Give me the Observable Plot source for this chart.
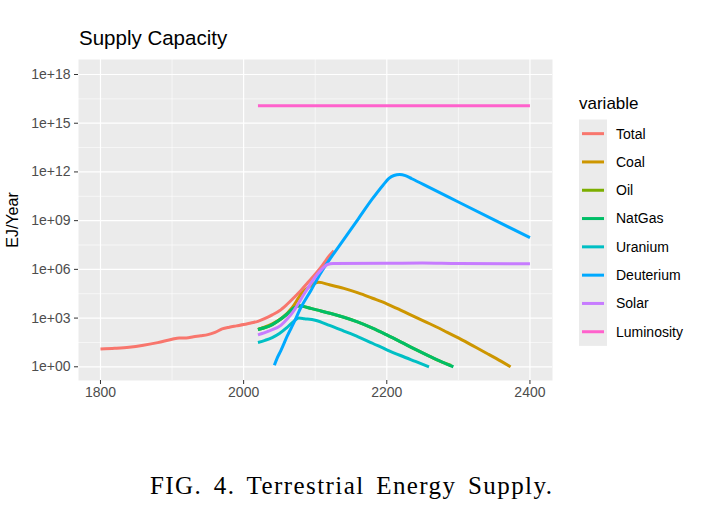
<!DOCTYPE html>
<html>
<head>
<meta charset="utf-8">
<script src="https://cdn.jsdelivr.net/npm/d3@7"></script>
<script src="https://cdn.jsdelivr.net/npm/@observablehq/plot@0.6"></script>
<style>
  body { margin: 0; background: #fff; }
  #wrap { position: relative; width: 710px; height: 514px; overflow: hidden; }
  #wrap > svg { position: absolute; left: 0; top: 0; }
</style>
</head>
<body>
<div id="wrap"></div>
<script>
// Series names in legend / drawing order
const variables = ["Total", "Coal", "Oil", "NatGas", "Uranium", "Deuterium", "Solar", "Luminosity"];
const palette = ["#F8766D", "#CD9600", "#7CAE00", "#00BE67", "#00BFC4", "#00A9FF", "#C77CFF", "#FF61CC"];

// Supply capacity, EJ/Year
const totalYears = [1800, 1820, 1840, 1860, 1880, 1900, 1910, 1920, 1930, 1940, 1950, 1960, 1970, 1980, 1990, 2000, 2010, 2020, 2030, 2040, 2050, 2060, 2070, 2080, 2090, 2100, 2110, 2120, 2126];
const totalValues = [12.3, 13.8, 16.2, 21.4, 30.9, 50.1, 60.3, 60.3, 70.8, 81.3, 95.5, 132, 214, 275, 331, 398, 501, 631, 955, 1585, 2818, 6607, 17783, 50119, 158489, 501187, 1.78e6, 7.08e6, 1.41e7];

const coalYears = [2020, 2040, 2055, 2068, 2080, 2092, 2105, 2120, 2140, 2160, 2180, 2200, 2220, 2240, 2260, 2280, 2300, 2320, 2340, 2360, 2373];
const coalValues = [200, 447, 1122, 4467, 28184, 89125, 158489, 112202, 67608, 35481, 16596, 7586, 3020, 1148, 447, 166, 60.3, 20.0, 6.61, 2.14, 1];

const oilYears = [2020, 2030, 2040, 2050, 2060, 2070, 2078, 2083, 2095, 2108, 2122, 2140, 2160, 2180, 2200, 2220, 2240, 2260, 2280, 2290];
const oilValues = [200, 263, 398, 759, 1660, 4169, 5754, 5248, 3802, 2754, 1905, 1122, 562, 240, 91.2, 33.1, 11.7, 4.37, 1.74, 1.2];

const natGasYears = [2020, 2030, 2040, 2050, 2060, 2070, 2078, 2083, 2095, 2108, 2122, 2140, 2160, 2180, 2200, 2220, 2240, 2260, 2280, 2293];
const natGasValues = [200, 263, 398, 759, 1660, 4169, 5754, 5248, 3802, 2754, 1905, 1122, 562, 240, 91.2, 33.1, 11.7, 4.37, 1.74, 1];

const uraniumYears = [2020, 2030, 2040, 2050, 2060, 2070, 2077, 2085, 2100, 2120, 2140, 2160, 2180, 2200, 2220, 2240, 2259];
const uraniumValues = [31.6, 42.7, 63.1, 112, 251, 631, 1000, 912, 741, 355, 158, 69.2, 28.2, 11.2, 4.79, 2.14, 1];

const deuteriumYears = [2043, 2047, 2052, 2061, 2070, 2080, 2094, 2108, 2120, 2140, 2160, 2180, 2195, 2203, 2210, 2218, 2226, 2235, 2260, 2300, 2350, 2400];
const deuteriumValues = [1.26, 3.55, 10, 79.4, 501, 4467, 50119, 630957, 3.98e6, 7.08e7, 1.26e9, 2.24e10, 1.58e11, 3.98e11, 6.03e11, 6.92e11, 5.89e11, 3.80e11, 1.07e11, 1.41e10, 1.12e9, 8.91e7];

const solarYears = [2020, 2035, 2052, 2062, 2070, 2084, 2095, 2103, 2110, 2117, 2125, 2200, 2250, 2300, 2400];
const solarValues = [93.3, 158, 355, 1000, 2818, 28184, 158489, 501187, 1.12e6, 2.0e6, 2.29e6, 2.34e6, 2.45e6, 2.29e6, 2.24e6];

const luminosityYears = [2020, 2100, 2200, 2300, 2400];
const luminosityValues = [1.2e16, 1.2e16, 1.2e16, 1.2e16, 1.2e16];

// Axis breaks and labels
const xTicks = [1800, 2000, 2200, 2400];
const xMinor = [1900, 2100, 2300];
const yTicks = [1, 1e3, 1e6, 1e9, 1e12, 1e15, 1e18];
const yTickLabels = ["1e+00", "1e+03", "1e+06", "1e+09", "1e+12", "1e+15", "1e+18"];
const yMinor = [10 ** 1.5, 10 ** 4.5, 10 ** 7.5, 10 ** 10.5, 10 ** 13.5, 10 ** 16.5];

const seriesTable = [
  ["Total", totalYears, totalValues],
  ["Coal", coalYears, coalValues],
  ["Oil", oilYears, oilValues],
  ["NatGas", natGasYears, natGasValues],
  ["Uranium", uraniumYears, uraniumValues],
  ["Deuterium", deuteriumYears, deuteriumValues],
  ["Solar", solarYears, solarValues],
  ["Luminosity", luminosityYears, luminosityValues]
];
const rows = seriesTable.flatMap(([variable, years, values]) =>
  years.map((year, i) => ({variable, year, value: values[i]})));

const sans = "'Liberation Sans', Arial, Helvetica, sans-serif";
const grey = "#4D4D4D";

const chart = Plot.plot({
  width: 710,
  height: 410,
  marginLeft: 78,
  marginRight: 158,
  marginTop: 59,
  marginBottom: 30,
  style: {fontFamily: sans, fontSize: "14px", background: "transparent", overflow: "visible"},
  x: {domain: [1769.3, 2431.5]},
  y: {type: "log", domain: [10 ** -0.844, 10 ** 18.924]},
  color: {domain: variables, range: palette},
  marks: [
    Plot.frame({fill: "#EBEBEB", stroke: "none"}),
    Plot.ruleX(xMinor, {stroke: "#fff", strokeWidth: 0.6}),
    Plot.ruleY(yMinor, {stroke: "#fff", strokeWidth: 0.6}),
    Plot.ruleX(xTicks, {stroke: "#fff", strokeWidth: 1.2}),
    Plot.ruleY(yTicks, {stroke: "#fff", strokeWidth: 1.2}),
    ...variables.map(v => Plot.line(rows.filter(r => r.variable === v), {
      x: "year", y: "value", stroke: "variable",
      strokeWidth: 3, curve: "monotone-x",
      strokeLinecap: "butt", strokeLinejoin: "round"
    })),
    Plot.axisX(xTicks, {
      tickSize: 4, tickPadding: 3, stroke: "#333", fill: grey,
      tickFormat: d => String(d), label: null, fontSize: 14
    }),
    Plot.axisY(yTicks, {
      tickSize: 4, tickPadding: 4, stroke: "#333", fill: grey,
      tickFormat: d => yTickLabels[yTicks.indexOf(d)], label: null, fontSize: 14
    })
  ]
});

const wrap = document.getElementById("wrap");
wrap.appendChild(chart);

// Title, axis title, legend and caption
const color = chart.scale("color");
const overlay = d3.create("svg")
  .attr("width", 710).attr("height", 514)
  .style("pointer-events", "none");

overlay.append("text")
  .attr("x", 79).attr("y", 45)
  .attr("font-family", sans).attr("font-size", 20.5).attr("fill", "#000")
  .text("Supply Capacity");

overlay.append("text")
  .attr("transform", "translate(18,220) rotate(-90)")
  .attr("text-anchor", "middle")
  .attr("font-family", sans).attr("font-size", 16).attr("fill", "#000")
  .text("EJ/Year");

const legend = overlay.append("g");
legend.append("text")
  .attr("x", 579).attr("y", 109)
  .attr("font-family", sans).attr("font-size", 17).attr("fill", "#000")
  .text("variable");
const keyH = 28.3, keyTop = 119.5;
legend.append("rect")
  .attr("x", 579).attr("y", keyTop)
  .attr("width", 28).attr("height", keyH * variables.length)
  .attr("fill", "#EBEBEB");
variables.forEach((v, i) => {
  const cy = keyTop + keyH * (i + 0.5);
  legend.append("line")
    .attr("x1", 582).attr("x2", 604).attr("y1", cy).attr("y2", cy)
    .attr("stroke", color.apply(v)).attr("stroke-width", 3);
  legend.append("text")
    .attr("x", 616).attr("y", cy).attr("dy", "0.35em")
    .attr("font-family", sans).attr("font-size", 14).attr("fill", "#000")
    .text(v);
});

overlay.append("text")
  .attr("x", 150).attr("y", 494)
  .attr("font-family", "'Liberation Serif', 'DejaVu Serif', serif")
  .attr("font-size", 25).attr("fill", "#000")
  .style("word-spacing", "4px")
  .attr("textLength", 402).attr("lengthAdjust", "spacing")
  .text("FIG. 4. Terrestrial Energy Supply.");

wrap.appendChild(overlay.node());
</script>
</body>
</html>
